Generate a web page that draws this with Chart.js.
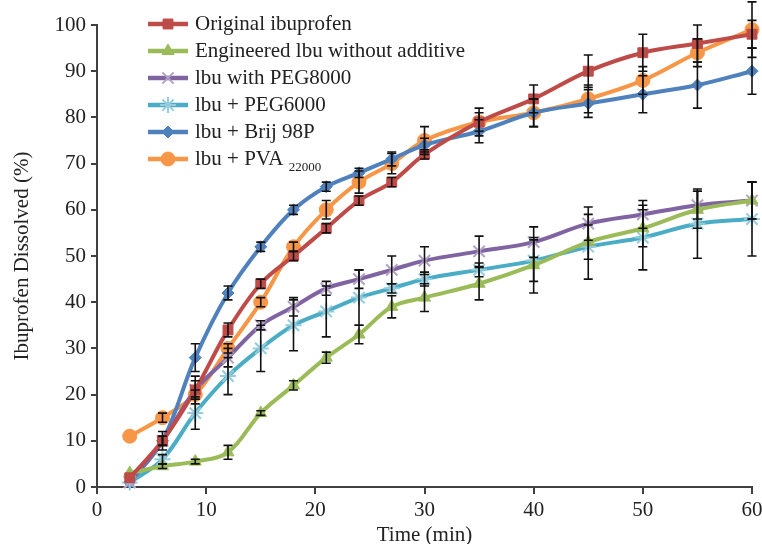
<!DOCTYPE html>
<html>
<head>
<meta charset="utf-8">
<script src="https://cdn.jsdelivr.net/npm/chart.js@4/dist/chart.umd.min.js"></script>
<style>
  html, body { margin: 0; padding: 0; background: #fff; }
  #wrap { width: 762px; height: 544px; }
</style>
</head>
<body>
<div id="wrap"><canvas id="c" width="762" height="544"></canvas></div>
<script>
// sampling times (min)
const times = [3, 6, 9, 12, 15, 18, 21, 24, 27, 30, 35, 40, 45, 50, 55, 60];

// % dissolved
const original   = [2, 10, 21, 34, 44, 50, 56, 62, 66, 72, 79, 84, 90, 94, 96, 98];
const engineered = [3, 4.5, 5.5, 7.5, 16, 22, 28, 33, 39, 41, 44, 48, 53, 56, 60, 62];
const peg8000    = [1, 10, 21, 28, 35, 39, 43, 45, 47, 49, 51, 53, 57, 59, 61, 62];
const peg6000    = [1, 6, 16, 24, 30, 35, 38, 41, 43, 45, 47, 49, 52, 54, 57, 58];
const brij       = [1, 10, 28, 42, 52, 60, 65, 68, 71, 74, 77, 81, 83, 85, 87, 90];
const pva        = [11, 15, 20, 30, 40, 52, 60, 66, 70, 75, 79, 81, 84, 88, 94, 99];

// standard deviations (error bars)
const originalErr   = [0, 2, 3, 1.5, 1, 1, 1, 1, 1, 1, 2, 3, 3.5, 4, 4, 3];
const engineeredErr = [0, 0.5, 0.5, 1.5, 0.5, 1, 1.2, 2, 2.4, 3, 3.5, 6, 3.7, 4, 4, 4];
const peg8000Err    = [0, 1, 2, 2, 1, 2, 1.5, 2, 3, 3, 3.3, 3.3, 3.6, 3, 3, 4];
const peg6000Err    = [0, 1, 3.5, 4, 5, 5.5, 5.5, 6, 1, 1.5, 1.5, 4.5, 7, 7, 7.5, 8];
const brijErr       = [0, 1, 3, 1.5, 1, 1, 1, 1, 1.5, 1.5, 2.5, 3, 3, 4, 5, 5];
const pvaErr        = [0, 1, 1, 1, 1, 1, 2, 2.4, 2.2, 3, 3, 3, 3, 3, 3, 6];

const seriesNames = [
  'Original ibuprofen',
  'Engineered lbu without additive',
  'lbu with PEG8000',
  'lbu + PEG6000',
  'lbu + Brij 98P',
  'lbu + PVA'
];

const FONT = "'Liberation Serif', 'Times New Roman', serif";

function series(label, values, errs, color, markerColor, style, radius) {
  return {
    label: label,
    data: times.map((t, i) => ({ x: t, y: values[i] })),
    errors: errs,
    borderColor: color,
    backgroundColor: markerColor,
    pointBorderColor: markerColor,
    pointBackgroundColor: markerColor,
    pointStyle: style,
    pointRadius: radius,
    pointBorderWidth: (style === 'crossRot' || style === 'star') ? 2 : 1,
    borderWidth: 4,
    tension: 0.35,
    clip: false
  };
}

const datasets = [
  series(seriesNames[0], original,   originalErr,   '#BE4B48', '#BE4B48', 'rect', 7),
  series(seriesNames[1], engineered, engineeredErr, '#9BBB59', '#9BBB59', 'triangle', 7),
  series(seriesNames[2], peg8000,    peg8000Err,    '#8064A2', '#B3A2C7', 'crossRot', 8),
  series(seriesNames[3], peg6000,    peg6000Err,    '#4BACC6', '#93CDDD', 'star', 8),
  series(seriesNames[4], brij,       brijErr,       '#4F81BD', '#4F81BD', 'rectRot', 6),
  series(seriesNames[5], pva,        pvaErr,        '#F79646', '#F79646', 'circle', 7)
];

// black error bars with caps
const errorBars = {
  id: 'errorBars',
  afterDatasetsDraw(chart) {
    const ctx = chart.ctx;
    const ys = chart.scales.y;
    ctx.save();
    ctx.strokeStyle = '#111';
    ctx.lineWidth = 1.6;
    chart.data.datasets.forEach((ds, i) => {
      const meta = chart.getDatasetMeta(i);
      meta.data.forEach((pt, j) => {
        const e = ds.errors[j];
        if (!e) return;
        const v = ds.data[j].y;
        const top = ys.getPixelForValue(v + e);
        const bot = ys.getPixelForValue(v - e);
        ctx.beginPath();
        ctx.moveTo(pt.x, top); ctx.lineTo(pt.x, bot);
        ctx.moveTo(pt.x - 4.5, top); ctx.lineTo(pt.x + 4.5, top);
        ctx.moveTo(pt.x - 4.5, bot); ctx.lineTo(pt.x + 4.5, bot);
        ctx.stroke();
      });
    });
    ctx.restore();
  }
};

// legend drawn like the Excel one: line sample + marker + text
const sampleLegend = {
  id: 'sampleLegend',
  afterDraw(chart) {
    const ctx = chart.ctx;
    ctx.save();
    chart.data.datasets.forEach((ds, i) => {
      const y = 24 + i * 27;
      ctx.strokeStyle = ds.borderColor;
      ctx.lineWidth = 4.5;
      ctx.beginPath();
      ctx.moveTo(148, y); ctx.lineTo(188, y);
      ctx.stroke();
      ctx.fillStyle = ds.pointBackgroundColor;
      ctx.strokeStyle = ds.pointBorderColor;
      ctx.lineWidth = ds.pointBorderWidth;
      Chart.helpers.drawPoint(ctx, {
        pointStyle: ds.pointStyle,
        radius: ds.pointRadius,
        rotation: 0,
        borderWidth: ds.pointBorderWidth
      }, 168, y);
      ctx.fillStyle = '#222';
      ctx.font = '21px ' + FONT;
      ctx.textBaseline = 'middle';
      ctx.textAlign = 'left';
      ctx.fillText(ds.label, 195, y);
      if (i === 5) {
        const w = ctx.measureText(ds.label + ' ').width;
        ctx.font = '13px ' + FONT;
        ctx.fillText('22000', 195 + w, y + 9);
      }
    });
    ctx.restore();
  }
};

new Chart(document.getElementById('c'), {
  type: 'line',
  data: { datasets: datasets },
  options: {
    responsive: false,
    animation: false,
    layout: { padding: { top: 25, right: 0, left: 0, bottom: 0 } },
    plugins: {
      legend: { display: false },
      tooltip: { enabled: false }
    },
    scales: {
      x: {
        type: 'linear',
        min: 0,
        max: 60,
        afterFit: s => { s.height = 57; s.paddingRight = 10; },
        grid: { drawOnChartArea: false, drawTicks: true, tickLength: 7, color: '#404040', lineWidth: 2 },
        border: { color: '#404040', width: 2 },
        ticks: { stepSize: 10, color: '#222', font: { family: FONT, size: 21 }, padding: 4, maxRotation: 0 },
        title: { display: true, text: 'Time (min)', color: '#222', font: { family: FONT, size: 21 }, padding: { top: 0, bottom: -4 } }
      },
      y: {
        min: 0,
        max: 100,
        afterFit: s => { s.width = 97; },
        grid: { drawOnChartArea: false, drawTicks: true, tickLength: 6, color: '#404040', lineWidth: 2 },
        border: { color: '#404040', width: 2 },
        ticks: { stepSize: 10, color: '#222', font: { family: FONT, size: 21 }, padding: 5 },
        title: { display: true, text: 'Ibuprofen Dissolved (%)', color: '#222', font: { family: FONT, size: 21 }, padding: { top: 10, bottom: 0 } }
      }
    }
  },
  plugins: [errorBars, sampleLegend]
});
</script>
</body>
</html>
